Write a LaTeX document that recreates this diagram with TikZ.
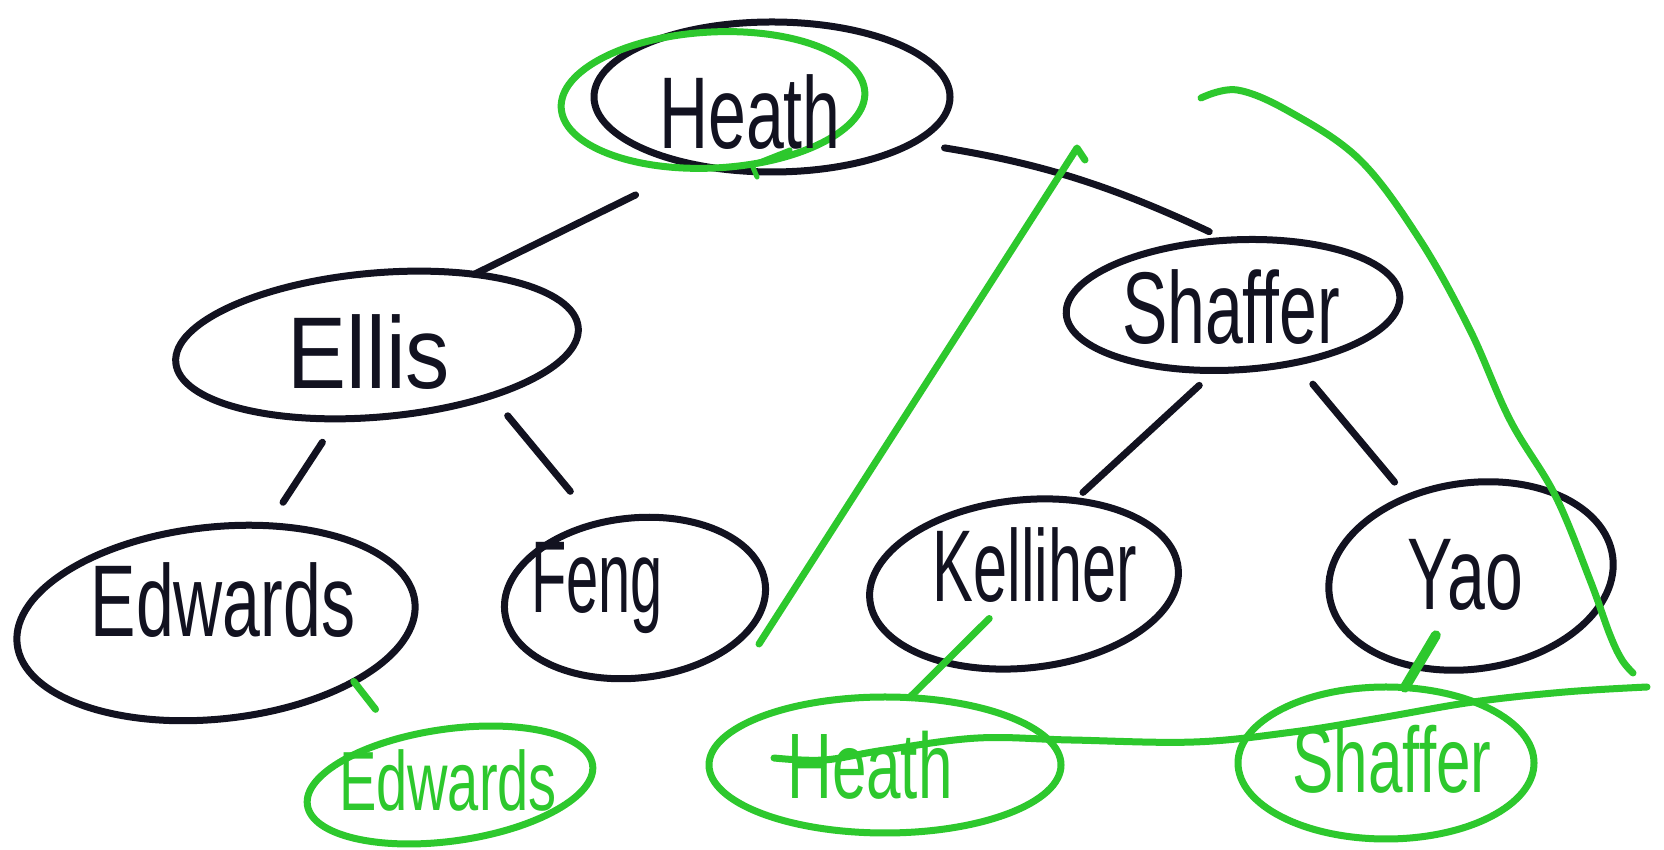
\documentclass[tikz,border=0pt]{standalone}
\usepackage{graphicx}
\usepackage{fontspec}
\setmainfont{Liberation Sans}
\usetikzlibrary{shapes.geometric}
\definecolor{ink}{HTML}{121220}
\definecolor{gr}{HTML}{2DC82D}
\newcommand{\hw}[2][1]{\scalebox{#1}[1.5]{#2}}
\begin{document}
\begin{tikzpicture}[x=1pt,y=1pt,
  oval/.style={ellipse, draw=ink, line width=7pt, inner sep=0pt, outer sep=0pt},
  goval/.style={ellipse, draw=gr, line width=7pt, inner sep=0pt, outer sep=0pt},
  lbl/.style={text=ink, inner sep=0pt, font=\fontsize{68}{80}\selectfont},
  glbl/.style={text=gr, inner sep=0pt, font=\fontsize{62}{72}\selectfont},
  edge/.style={draw=ink, line width=7pt, line cap=round},
  gline/.style={draw=gr, line width=7pt, line cap=round, line join=round}]
\useasboundingbox (0,0) rectangle (1664,850);
\fill[white] (0,0) rectangle (1664,850);

% black tree nodes
\node[oval, minimum width=356, minimum height=150] (heath) at (772,753) {};
\node[oval, minimum width=404, minimum height=144, rotate=5] (ellis) at (377,505) {};
\node[oval, minimum width=334, minimum height=130, rotate=3] (shaffer) at (1233,545) {};
\node[oval, minimum width=400, minimum height=192, rotate=6] (edwards) at (216,227) {};
\node[oval, minimum width=262, minimum height=160, rotate=6] (feng) at (635,252) {};
\node[oval, minimum width=310, minimum height=168, rotate=6] (kelliher) at (1024,266) {};
\node[oval, minimum width=286, minimum height=186, rotate=8] (yao) at (1471,274) {};

% green nodes
\node[goval, minimum width=304, minimum height=136, rotate=3] (gtop) at (713,750) {};
\node[goval, minimum width=288, minimum height=112, rotate=8] (gedwards) at (450,65) {};
\node[goval, minimum width=352, minimum height=136] (gheath) at (885,85) {};
\node[goval, minimum width=296, minimum height=152] (gshaffer) at (1386,87) {};

% labels
\node[lbl] (tHeath) at (750,738) {\hw{Heath}};
\node[lbl] (tEllis) at (369,498) {\hw[1.3]{Ellis}};
\node[lbl] (tShaffer) at (1231,543) {\hw{Shaffer}};
\node[lbl] (tEdwards) at (223,250) {\hw{Edwards}};
\node[lbl] (tFeng) at (597,262) {\hw[0.85]{Feng}};
\node[lbl] (tKelliher) at (1035,285) {\hw[0.9]{Kelliher}};
\node[lbl] (tYao) at (1465,275) {\hw{Yao}};
\node[glbl, font=\fontsize{56}{66}\selectfont] (tgEdwards) at (448,70) {\hw{Edwards}};
\node[glbl] (tgHeath) at (870,85) {\hw{Heath}};
\node[glbl] (tgShaffer) at (1392,91) {\hw{Shaffer}};

% black edges
\draw[edge, shorten <=68] (heath.222) -- (ellis.31);
\draw[edge, shorten <=32, shorten >=20] (heath.-18) to[bend left=8] (shaffer.92);
\draw[edge, shorten <=28, shorten >=28] (ellis.237) -- (edwards.56);
\draw[edge, shorten <=26, shorten >=42] (ellis.-29) -- (feng.111);
\draw[edge, shorten <=22, shorten >=12] (shaffer.252) -- (kelliher.53);
\draw[edge, shorten <=28, shorten >=20] (shaffer.-46) -- (yao.121);

% green connectors
\draw[gline, shorten >=37] (edwards.-29) -- (gedwards.130);
\draw[gline, shorten <=49] (kelliher.center) -- (gheath.70);
\draw[gline, line width=10pt, shorten <=69] (yao.center) -- (gshaffer.76);

% small green mark on top ellipse
\draw[gline, line width=5pt] (790,700) -- (752,685) -- (757,673);

% big green triangle
\draw[gline] (759,206) -- (1077,702) -- (1085,690);
\draw[gline] plot[smooth, tension=0.6] coordinates {(1201,752) (1237,760) (1290,738) (1360,690) (1420,610) (1470,520) (1510,430) (1555,355) (1590,270) (1610,215) (1622,190) (1633,177)};
\draw[gline] plot[smooth, tension=0.6] coordinates {(774,92) (824,90) (885,100) (978,112) (1071,110) (1194,108) (1293,118) (1380,132) (1473,148) (1565,158) (1647,163)};
\end{tikzpicture}
\end{document}
